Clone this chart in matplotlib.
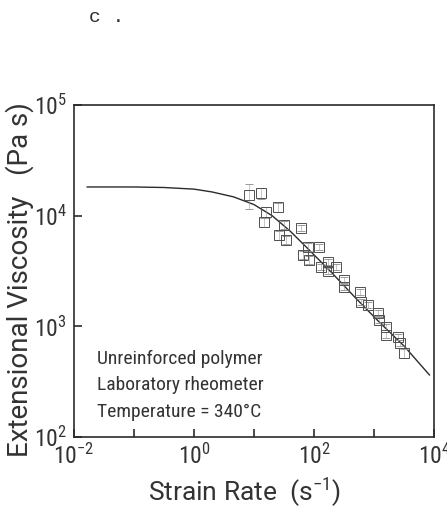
import matplotlib
matplotlib.use("Agg")
import matplotlib.pyplot as plt
from matplotlib import font_manager
from matplotlib.ticker import FixedLocator, FuncFormatter, NullLocator

# Narrow face for numbers, regular face for titles
available = {f.name for f in font_manager.fontManager.ttflist}
narrow = next((n for n in ['Roboto Condensed', 'Liberation Sans Narrow', 'DejaVu Sans Condensed',
                           'Roboto', 'DejaVu Sans'] if n in available), 'DejaVu Sans')
wide = next((n for n in ['Roboto', 'DejaVu Sans'] if n in available), 'DejaVu Sans')

plt.rcParams['font.family'] = [narrow, 'DejaVu Sans']
plt.rcParams['mathtext.fontset'] = 'custom'
plt.rcParams['mathtext.rm'] = narrow
plt.rcParams['mathtext.it'] = narrow
plt.rcParams['mathtext.sf'] = narrow

# Measured extensional viscosity (Pa s) vs strain rate (1/s)
strain_rate = [8.1, 12.9, 24.8, 15.6, 14.5, 31.3, 60.1, 25.8, 33.7, 78.7, 120, 65.0,
               81.8, 170, 232, 130, 170, 315, 315, 583, 607, 794, 1167, 1213, 1589,
               1589, 2518, 2723, 3177]
viscosity = [15350, 16000, 11940, 10790, 8750, 8220, 7730, 6680, 6030, 5200, 5200, 4400,
             3970, 3810, 3440, 3440, 3160, 2620, 2260, 2040, 1660, 1560, 1320, 1140, 990,
             830, 800, 710, 570]
rel_err = [0.25, 0.12, 0.10, 0.12, 0.10, 0.08, 0.06, 0.10, 0.08, 0.08, 0.06, 0.08,
           0.08, 0.06, 0.06, 0.06, 0.06, 0.06, 0.06, 0.06, 0.06, 0.06, 0.06, 0.06, 0.06,
           0.06, 0.06, 0.06, 0.10]

# Fitted model curve
fit_rate = [0.0166, 0.1, 0.316, 1.0, 2.0, 4.57, 10, 20, 40, 79.4, 200, 501, 1259, 3162, 8318]
fit_visc = [18200, 18200, 18000, 17400, 16400, 14800, 12600, 10000, 7240, 5010, 3020,
            1780, 1070, 661, 363]

x_ticks = [1e-2, 1e-1, 1, 10, 1e2, 1e3, 1e4]
x_tick_labels = {1e-2: r'$10^{-2}$', 1.0: r'$10^{0}$', 1e2: r'$10^{2}$', 1e4: r'$10^{4}$'}
y_ticks = [1e2, 1e3, 1e4, 1e5]

notes = ["Unreinforced polymer", "Laboratory rheometer", "Temperature = 340\u00b0C"]

ink = '#2b2b2b'
fig = plt.figure(figsize=(4.47, 5.08), dpi=100)
ax = fig.add_axes([0.1655, 0.140, 0.806, 0.653])
ax.set_xscale('log')
ax.set_yscale('log')
ax.set_xlim(1e-2, 1e4)
ax.set_ylim(1e2, 1e5)

ax.plot(fit_rate, fit_visc, color=ink, lw=1.0)
err = [v * e for v, e in zip(viscosity, rel_err)]
ax.errorbar(strain_rate, viscosity, yerr=[err, err], fmt='s', ms=7, mfc='none', mec='#505050',
            mew=0.7, ecolor='#9a9a9a', elinewidth=0.4, capsize=3, capthick=0.8)

for s in ax.spines.values():
    s.set_color(ink)
    s.set_linewidth(1.2)

ax.xaxis.set_major_locator(FixedLocator(x_ticks))
ax.xaxis.set_major_formatter(FuncFormatter(lambda v, p: x_tick_labels.get(v, '')))
ax.xaxis.set_minor_locator(NullLocator())
ax.yaxis.set_major_locator(FixedLocator(y_ticks))
ax.yaxis.set_minor_locator(NullLocator())
ax.tick_params(direction='in', length=6, width=1.2, color=ink, labelsize=17,
               labelcolor='#333333', pad=5)

ax.set_xlabel('Strain Rate  (s$^{-1}$)', fontsize=19, color='#333333', family=[wide, 'DejaVu Sans'])
ax.xaxis.set_label_coords(0.472, -0.117)
ax.set_ylabel('Extensional Viscosity   (Pa s)', fontsize=20, color='#333333',
              family=[wide, 'DejaVu Sans'])
ax.yaxis.set_label_coords(-0.11, 0.473)

for i, t in enumerate(notes):
    ax.text(0.065, 0.235 - i * 0.08, t, transform=ax.transAxes, fontsize=14,
            color='#333333', va='center')

fig.text(0.20, 0.965, 'c .', family='Liberation Mono', fontsize=14, color=ink, va='center')

fig.savefig('out.png', dpi=100)
